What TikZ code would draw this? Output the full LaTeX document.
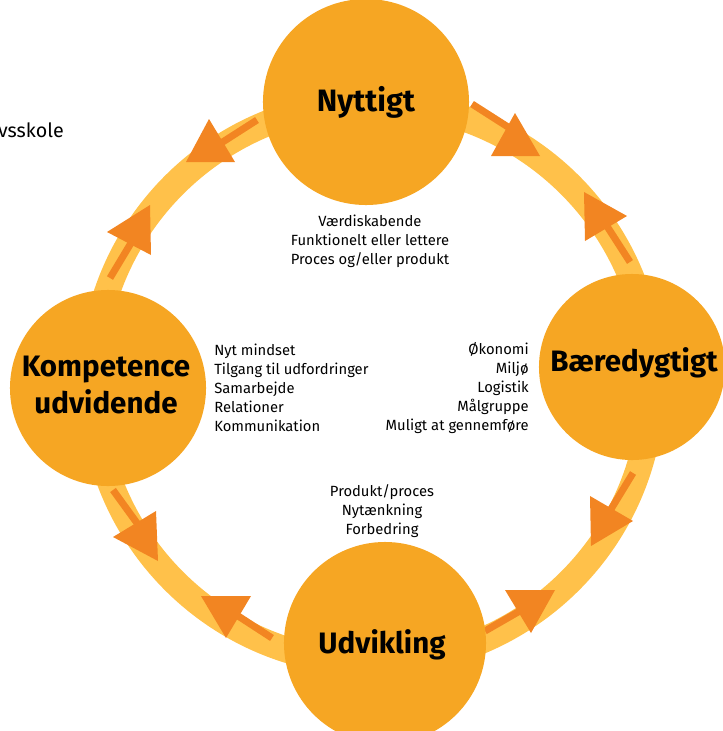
\documentclass[tikz,border=0pt]{standalone}
\usepackage{fontspec}
\setmainfont{Fira Sans}

\begin{document}
\begin{tikzpicture}[x=0.025cm,y=-0.025cm,
  bubble/.style={circle,fill=bubble,inner sep=0pt},
  title/.style={font=\fontsize{21}{27}\selectfont\bfseries,align=center},
  notes/.style={font=\fontsize{10.5}{13.5}\selectfont,inner sep=0pt},
  shaft/.style={draw=arrowtip,line width=5pt}]
  \definecolor{bubble}{RGB}{246,166,35}
  \definecolor{ringcol}{RGB}{255,193,74}
  \definecolor{arrowtip}{RGB}{242,133,34}
  \useasboundingbox (0,0) rectangle (723,731);

  % the ring
  \draw[ringcol,line width=18.4pt] (372,383) circle [radius=280];

  % shafts
  \draw[shaft] (257,120) -- (218,145);
  \draw[shaft] (110,278) -- (134,238);
  \draw[shaft] (472,104) -- (508,127);
  \draw[shaft] (630,262) -- (603,220);
  \draw[shaft] (633,473) -- (608,514);
  \draw[shaft] (485,631) -- (525,608);
  \draw[shaft] (272,638) -- (232,612);
  \draw[shaft] (113,490) -- (142,530);

  % heads
  \fill[arrowtip] (209,119) -- (186,162) -- (235,162) -- cycle;
  \fill[arrowtip] (150,205) -- (107,232) -- (151,255) -- cycle;
  \fill[arrowtip] (515,113) -- (491,156) -- (540,156) -- cycle;
  \fill[arrowtip] (584,192) -- (627,216) -- (585,241) -- cycle;
  \fill[arrowtip] (590,496) -- (633,521) -- (591,546) -- cycle;
  \fill[arrowtip] (505,590) -- (555,590) -- (531,633) -- cycle;
  \fill[arrowtip] (201,596) -- (251,596) -- (226,638) -- cycle;
  \fill[arrowtip] (113,537) -- (156,511) -- (158,561) -- cycle;

  \node[bubble,minimum size=5.15cm] (nyttigt) at (366,102) {};
  \node[bubble,minimum size=4.65cm] (baeredygtigt) at (632,367) {};
  \node[bubble,minimum size=4.9cm] (kompetence) at (108,388) {};
  \node[bubble,minimum size=5.05cm] (udvikling) at (385,643) {};

  \node[title,font=\fontsize{22}{27}\selectfont\bfseries] at (nyttigt) {Nyttigt};
  \node[title] at (634,363) {Bæredygtigt};
  \node[title] at (106,385) {Kompetence\\udvidende};
  \node[title] at (382,645) {Udvikling};

  \node[notes,align=center] (nyttignotes) at (370,241)
    {Værdiskabende\\Funktionelt eller lettere\\Proces og/eller produkt};
  \node[notes,align=left,anchor=west] (kompnotes) at (214,388)
    {Nyt mindset\\Tilgang til udfordringer\\Samarbejde\\Relationer\\Kommunikation};
  \node[notes,align=right,anchor=east] (baernotes) at (529,388)
    {Økonomi\\Miljø\\Logistik\\Målgruppe\\Muligt at gennemføre};
  \node[notes,align=center] (udvnotes) at (382,511)
    {Produkt/proces\\Nytænkning\\Forbedring};

  \node[notes,font=\fontsize{14}{16}\selectfont,anchor=base east] (skole) at (64,137) {vsskole};
\end{tikzpicture}
\end{document}
